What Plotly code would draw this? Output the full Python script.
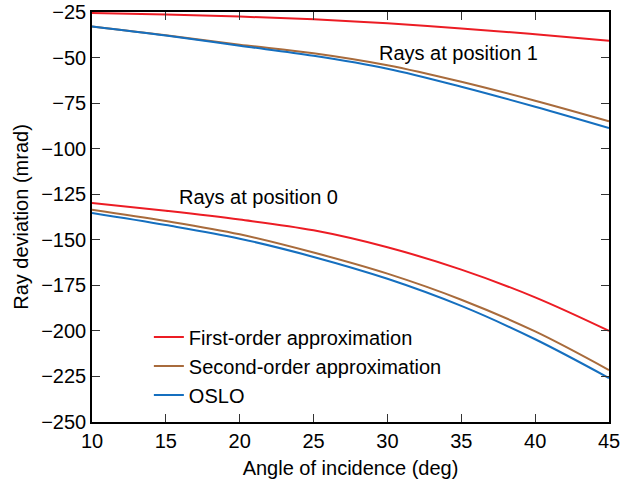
import plotly.graph_objects as go

# Angle of incidence (deg)
angle = [10, 15, 20, 25, 30, 35, 40, 45]

# Ray deviation (mrad), rays at position 1
pos1_first = [-25.6, -26.4, -27.5, -29.0, -31.2, -34.0, -37.2, -40.8]
pos1_second = [-32.9, -37.8, -42.9, -47.6, -54.2, -63.3, -73.7, -85.0]
pos1_oslo = [-32.9, -37.9, -43.5, -49.0, -56.1, -66.0, -77.0, -88.7]

# Ray deviation (mrad), rays at position 0
pos0_first = [-129.8, -134.1, -138.9, -144.8, -154.1, -166.4, -181.6, -200.0]
pos0_second = [-133.5, -139.7, -147.0, -157.0, -168.6, -182.9, -200.3, -221.5]
pos0_oslo = [-135.3, -141.9, -149.4, -159.4, -171.4, -186.3, -204.6, -225.9]

x_ticks = [10, 15, 20, 25, 30, 35, 40, 45]
y_ticks = [-250, -225, -200, -175, -150, -125, -100, -75, -50, -25]

RED = "#ec1c24"
BROWN = "#a86b3c"
BLUE = "#156fbf"
FONT = "Liberation Sans, Arial, Helvetica, sans-serif"

fig = go.Figure()

series = [
    ("First-order approximation", RED, pos1_first, pos0_first),
    ("Second-order approximation", BROWN, pos1_second, pos0_second),
    ("OSLO", BLUE, pos1_oslo, pos0_oslo),
]
for name, color, y1, y0 in series:
    fig.add_trace(go.Scatter(
        x=angle, y=y1, mode="lines", name=name, legendgroup=name,
        showlegend=False, line=dict(color=color, width=2, shape="spline", smoothing=1.0),
    ))
    fig.add_trace(go.Scatter(
        x=angle, y=y0, mode="lines", name=name, legendgroup=name,
        showlegend=True, line=dict(color=color, width=2, shape="spline", smoothing=1.0),
    ))

fig.add_annotation(x=34.8, y=-47.5, text="Rays at position 1", showarrow=False,
                   xanchor="center", yanchor="middle", font=dict(size=20, color="black"))
fig.add_annotation(x=21.3, y=-126.5, text="Rays at position 0", showarrow=False,
                   xanchor="center", yanchor="middle", font=dict(size=20, color="black"))

axis_common = dict(
    showgrid=False, zeroline=False, showline=True, linecolor="black", linewidth=1.5,
    mirror="ticks", ticks="inside", ticklen=8, tickwidth=1.2, tickcolor="#333333",
    tickfont=dict(size=20, color="black", family=FONT), automargin=True,
)

fig.update_xaxes(
    range=[10, 45], tickvals=x_ticks, ticktext=[str(v) for v in x_ticks],
    title=dict(text="Angle of incidence (deg)", font=dict(size=20, color="black"), standoff=10),
    **axis_common,
)
fig.update_yaxes(
    range=[-250, -25], tickvals=y_ticks, ticktext=[f"\u2212{abs(v)}" for v in y_ticks],
    title=dict(text="Ray deviation (mrad)", font=dict(size=20, color="black"), standoff=7),
    **axis_common,
)

fig.update_layout(
    width=629, height=480,
    margin=dict(l=92, r=20, t=12, b=58, autoexpand=False),
    plot_bgcolor="white", paper_bgcolor="white",
    font=dict(family=FONT, size=20, color="black"),
    legend=dict(
        x=0.11, y=0.255, xanchor="left", yanchor="top",
        bgcolor="rgba(0,0,0,0)", borderwidth=0,
        font=dict(size=20, color="black"), tracegroupgap=0,
        itemwidth=30,
    ),
)

fig.write_html("out.html")
